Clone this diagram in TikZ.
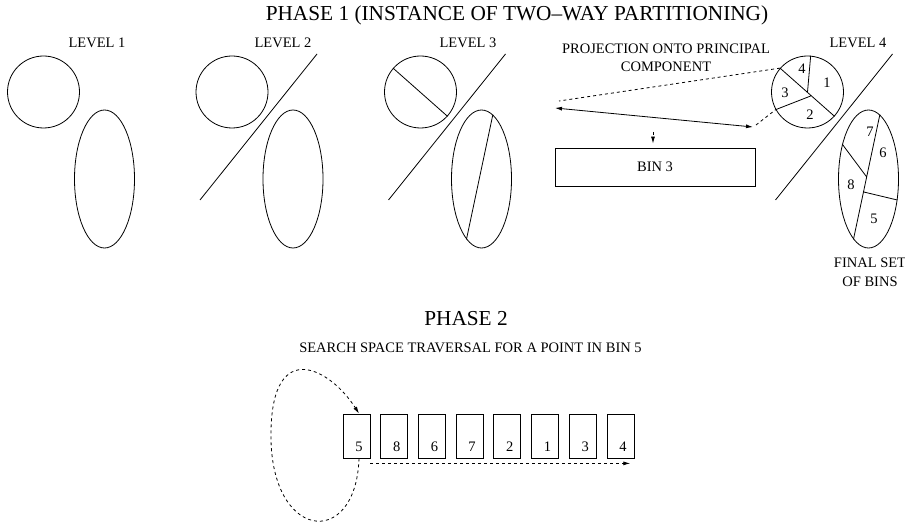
\documentclass[tikz,border=0pt]{standalone}
\usepackage{fontspec}
\setmainfont{Liberation Serif}
\usepackage{tikz}
\usetikzlibrary{positioning,arrows.meta,calc,shapes.geometric}

\begin{document}
\begin{tikzpicture}[x=1pt,y=1pt,line width=0.8pt,
  lbl/.style={font=\fontsize{14.5}{18.5}\selectfont,inner sep=0pt},
  head/.style={font=\fontsize{21.3}{24}\selectfont,inner sep=0pt},
  blob/.style={draw,circle,minimum size=72pt,inner sep=0pt},
  pod/.style={draw,ellipse,minimum width=60pt,minimum height=138pt,inner sep=0pt},
  binbox/.style={draw,rectangle,minimum width=27pt,minimum height=44pt,inner sep=0pt},
  tip/.style={-{Latex[length=7pt,width=4pt]}}]
  \useasboundingbox (0,0) rectangle (905,523);
  \node[head] (title) at (517,508) {PHASE 1 (INSTANCE OF TWO–WAY PARTITIONING)};
  % the four levels of the split
  \foreach \k/\dx/\lx in {1/0/97,2/188.5/283,3/377/468,4/764/858} {
    \node[blob] (c\k) at ({43.5+\dx},431) {};
    \node[pod] (e\k) at ({104.5+\dx},344) {};
    \node[lbl] (lv\k) at (\lx,480) {LEVEL \k};
  }
  \foreach \dx in {188.5,377,764} \draw ({11.5+\dx},323) -- ({128.5+\dx},469);
  \draw (c3.139) -- (c3.-42) (e3.80) -- (e3.256);
  \draw (c4.139) -- (c4.-42) (c4.85) -- (c4.center) ($(c4.center)!0.15!(c4.-42)$) -- (c4.209);
  \draw (e4.80) -- (e4.256) (e4.127) -- ($(e4.80)!0.5!(e4.256)$) ($(e4.80)!0.62!(e4.256)$) -- (e4.-36);
  \node[lbl] (r4) at (802,454) {4}; \node[lbl] (r1) at (827,440) {1};
  \node[lbl] (r3) at (785,430) {3}; \node[lbl] (r2) at (810,408) {2};
  \node[lbl] (r7) at (870,391) {7}; \node[lbl] (r6) at (883,370) {6};
  \node[lbl] (r8) at (851,338) {8}; \node[lbl] (r5) at (874,304) {5};
  \node[lbl,align=center,font=\fontsize{14.5}{19}\selectfont] (fin) at (870,250.5) {FINAL SET\\OF BINS};
  % projection onto the principal component
  \node[lbl,align=center] (proj) at (666,465) {PROJECTION ONTO PRINCIPAL\\COMPONENT};
  \coordinate (pa) at (555,415); \coordinate (pb) at (753,396);
  \coordinate (qa) at (559,422); \coordinate (qb) at (756,398);
  \draw[{Latex[length=7pt,width=4pt]}-{Latex[length=7pt,width=4pt]}] (pa) -- (pb);
  \draw[dashed] (c4.139) -- (qa);
  \draw[dashed] (qb) -- (c4.209);
  \node[lbl,draw,minimum width=200pt,minimum height=38pt] (bin) at (655,356) {BIN 3};
  \coordinate (pm) at (653,391);
  \draw[dashed,tip] (pm) -- ($(pm |- bin.north)+(0,4)$);
  % phase 2
  \node[head] (ph2) at (466,204) {PHASE 2};
  \node[lbl] (search) at (470.5,175) {SEARCH SPACE TRAVERSAL FOR A POINT IN BIN 5};
  \foreach \n [count=\i] in {5,8,6,7,2,1,3,4} {
    \node[binbox] (b\i) at ({356.5+37.7*(\i-1)},87) {};
    \node[lbl] (n\i) at ($(b\i.center)+(2.5,-11)$) {\n};
  }
  \draw[dashed,tip] ([shift={(0,-5)}]b1.south east) -- ([shift={(-4,-5)}]b8.south east);
  \coordinate (lw) at (271,93);
  \draw[dashed,tip] ([xshift=2.5pt]b1.south) .. controls (356,-28) and (268,-18) .. (lw)
    .. controls (273,185) and (330,155) .. ([xshift=2.5pt]b1.north);
\end{tikzpicture}
\end{document}
